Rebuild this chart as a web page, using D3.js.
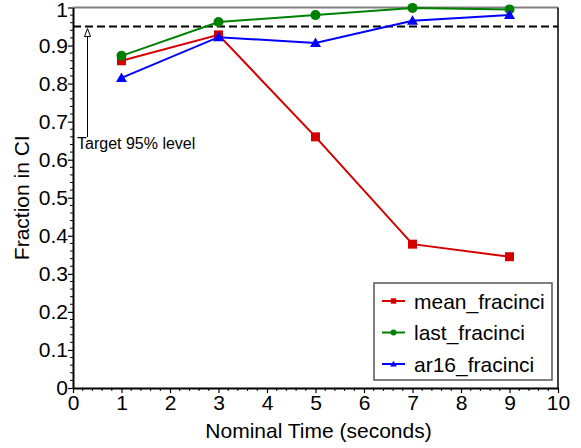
<!DOCTYPE html>
<html><head><meta charset="utf-8">
<script src="https://cdn.jsdelivr.net/npm/d3@7"></script>
<style>body{margin:0;background:#fff}text{font-family:"Liberation Sans",Arial,sans-serif}</style>
</head><body><svg id="c" width="581" height="448"></svg>
<script>
const times = [1, 3, 5, 7, 9];
const meanFracinci = [0.860, 0.928, 0.660, 0.378, 0.345];
const lastFracinci = [0.873, 0.962, 0.980, 0.999, 0.995];
const ar16Fracinci = [0.815, 0.922, 0.907, 0.965, 0.980];
const seriesNames = ["mean_fracinci", "last_fracinci", "ar16_fracinci"];
const xTicks = [0,1,2,3,4,5,6,7,8,9,10];
const yTicks = [0,0.1,0.2,0.3,0.4,0.5,0.6,0.7,0.8,0.9,1];
const targetLevel = 0.95;

const colors = ["#d40000", "#008000", "#0000ff"];
const shapes = ["square", "circle", "triangle"];
const svg = d3.select("#c");
const L = 73, R = 558, T = 7.5, B = 388;
const x = d3.scaleLinear().domain([0,10]).range([L,R]);
const y = d3.scaleLinear().domain([0,1]).range([B,T]);

// top frame (gray) and right spine
svg.append("line").attr("x1",L).attr("x2",R).attr("y1",T).attr("y2",T).attr("stroke","#808080").attr("stroke-width",2);
svg.append("line").attr("x1",R).attr("x2",R).attr("y1",T).attr("y2",B).attr("stroke","#000").attr("stroke-width",1.5);

// minor ticks
const xMinor = d3.range(0,50).map(i=>i*0.2).filter(v=>Math.abs(v-Math.round(v))>1e-6);
svg.append("g").selectAll("line").data(xMinor).join("line")
  .attr("x1",d=>x(d)).attr("x2",d=>x(d)).attr("y1",B).attr("y2",B+3).attr("stroke","#000").attr("stroke-width",1);
const yMinor = d3.range(0,50).map(i=>i*0.02).filter(v=>Math.abs(v*10-Math.round(v*10))>1e-6);
svg.append("g").selectAll("line").data(yMinor).join("line")
  .attr("x1",L-3).attr("x2",L).attr("y1",d=>y(d)).attr("y2",d=>y(d)).attr("stroke","#000").attr("stroke-width",1);

const xAxis = svg.append("g").attr("transform",`translate(0,${B})`)
  .call(d3.axisBottom(x).tickValues(xTicks).tickFormat(d3.format("d")).tickSizeInner(5).tickSizeOuter(0));
const yAxis = svg.append("g").attr("transform",`translate(${L},0)`)
  .call(d3.axisLeft(y).tickValues(yTicks).tickFormat(d=>d===0||d===1?String(d):d3.format(".1f")(d)).tickSizeInner(5).tickSizeOuter(0));
[xAxis,yAxis].forEach(g=>{
  g.select(".domain").attr("stroke","#000").attr("stroke-width",2);
  g.selectAll(".tick line").attr("stroke","#000").attr("stroke-width",1.2);
  g.selectAll(".tick text").attr("font-size",21).attr("font-family","Liberation Sans, Arial, sans-serif").attr("fill","#000");
});
xAxis.selectAll(".tick text").attr("dy","0.71em").attr("y",7);
yAxis.selectAll(".tick text").attr("x",-5).attr("dy",d=>d===1?"0.45em":"0.32em");

// dashed target line
svg.append("line").attr("x1",L).attr("x2",R).attr("y1",y(targetLevel)).attr("y2",y(targetLevel))
  .attr("stroke","#000").attr("stroke-width",2).attr("stroke-dasharray","8,4");

// arrow annotation
svg.append("line").attr("x1",87.5).attr("x2",87.5).attr("y1",137).attr("y2",y(targetLevel)+9)
  .attr("stroke","#000").attr("stroke-width",1);
svg.append("path").attr("d",`M87.5,${y(targetLevel)+2} L84.5,${y(targetLevel)+10} L90.5,${y(targetLevel)+10} Z`)
  .attr("fill","#fff").attr("stroke","#000").attr("stroke-width",1);
svg.append("text").attr("x",77).attr("y",149).attr("font-size",16).text("Target 95% level");

const data = [meanFracinci, lastFracinci, ar16Fracinci];
function marker(g, shape, color, cx, cy, s) {
  if (shape==="square") g.append("rect").attr("x",cx-s*4.5).attr("y",cy-s*4.5).attr("width",s*9).attr("height",s*9).attr("fill",color);
  else if (shape==="circle") g.append("circle").attr("cx",cx).attr("cy",cy).attr("r",s*5).attr("fill",color);
  else g.append("path").attr("d",`M${cx},${cy-s*5.5} L${cx+s*5.5},${cy+s*4} L${cx-s*5.5},${cy+s*4} Z`).attr("fill",color);
}
const line = d3.line().x((d,i)=>x(times[i])).y(d=>y(d));
data.forEach((vals,k)=>{
  svg.append("path").attr("d",line(vals)).attr("fill","none").attr("stroke",colors[k]).attr("stroke-width",2);
  const g = svg.append("g");
  vals.forEach((v,i)=>marker(g,shapes[k],colors[k],x(times[i]),y(v),1));
});

// legend
const lg = svg.append("g");
lg.append("rect").attr("x",374).attr("y",283).attr("width",178).attr("height",97)
  .attr("fill","#fff").attr("stroke","#555").attr("stroke-width",1.5);
seriesNames.forEach((n,k)=>{
  const ly = 301 + k*31.5;
  lg.append("line").attr("x1",382).attr("x2",405).attr("y1",ly).attr("y2",ly).attr("stroke",colors[k]).attr("stroke-width",2);
  marker(lg,shapes[k],colors[k],393.5,ly,0.6);
  lg.append("text").attr("x",414).attr("y",ly+7.5).attr("font-size",21).text(n);
});

// axis titles
svg.append("text").attr("x",(L+R)/2+3).attr("y",438).attr("text-anchor","middle").attr("font-size",21).text("Nominal Time (seconds)");
svg.append("text").attr("transform",`translate(29,${(T+B)/2}) rotate(-90)`).attr("text-anchor","middle").attr("font-size",21).text("Fraction in CI");
</script></body></html>
